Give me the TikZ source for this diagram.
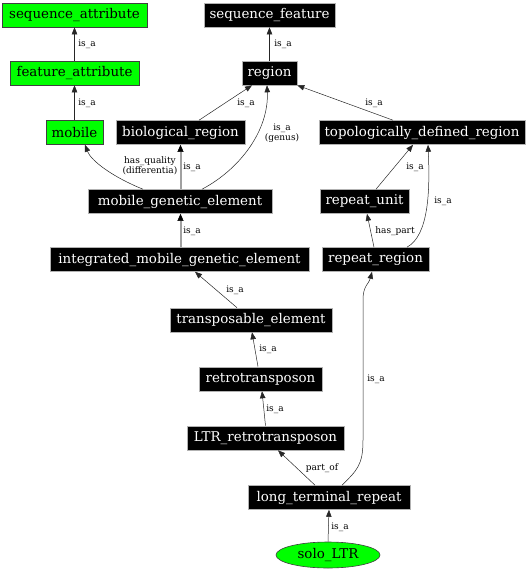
\documentclass[tikz,border=0pt]{standalone}
\usepackage{fontspec}
\setmainfont{DejaVu Serif}
\usetikzlibrary{arrows.meta,shapes.geometric}
\definecolor{nodegreen}{HTML}{00FF00}
\definecolor{edgegray}{HTML}{A0A0A0}
\tikzset{
  term/.style={rectangle, fill=black, draw=gray!60, line width=0.6pt, text=white,
    font=\fontsize{13.4}{14}\selectfont, minimum height=24pt, inner xsep=0pt, inner ysep=0pt},
  attr/.style={rectangle, fill=nodegreen, draw=black!75, line width=0.6pt, text=black,
    font=\fontsize{13.4}{14}\selectfont, minimum height=24pt, inner xsep=0pt, inner ysep=0pt},
  inst/.style={ellipse, fill=nodegreen, draw=black!75, line width=0.6pt, text=black,
    font=\fontsize{13.4}{14}\selectfont, minimum height=26pt, minimum width=104pt, inner sep=0pt},
  rel/.style={draw=black!85, line width=0.5pt, -{Triangle[length=7pt,width=5.5pt]}},
  relg/.style={draw=edgegray, line width=2pt, -{Triangle[length=7pt,width=6pt,fill=black,color=black,line width=0.4pt]}},
  lab/.style={font=\fontsize{9}{9.5}\selectfont, inner sep=0pt, align=center},
}
\begin{document}
\begin{tikzpicture}[x=1pt,y=-1pt]
\useasboundingbox (0,0) rectangle (531,576);
% nodes
\node[attr, minimum width=145pt] (sa) at (74.5,15) {sequence\_attribute};
\node[term, minimum width=131pt] (sf) at (269.5,15) {sequence\_feature};
\node[attr, minimum width=129pt] (fa) at (74.5,73) {feature\_attribute};
\node[term, minimum width=55pt] (region) at (269.5,73) {region};
\node[attr, minimum width=57pt] (mobile) at (74.5,132.5) {mobile};
\node[term, minimum width=129pt] (bio) at (180.5,132.5) {biological\_region};
\node[term, minimum width=206pt] (tdr) at (422,132.5) {topologically\_defined\_region};
\node[term, minimum width=184pt] (mge) at (180,201.5) {mobile\_genetic\_element};
\node[term, minimum width=89pt] (ru) at (364.5,201.5) {repeat\_unit};
\node[term, minimum width=259pt] (imge) at (179.5,259.5) {integrated\_mobile\_genetic\_element};
\node[term, minimum width=107pt] (rr) at (375.5,259.5) {repeat\_region};
\node[term, minimum width=162pt] (te) at (251,320) {transposable\_element};
\node[term, minimum width=123pt] (retro) at (260.5,379) {retrotransposon};
\node[term, minimum width=157pt] (ltrr) at (265.5,438) {LTR\_retrotransposon};
\node[term, minimum width=162pt] (ltr) at (329,497.5) {long\_terminal\_repeat};
\node[inst] (solo) at (328,555) {solo\_LTR};
% edges
\draw[rel] (fa.north) -- (sa.south);
\draw[rel] (mobile.north) -- (fa.south);
\draw[rel] (region.north) -- (sf.south);
\draw[rel] ([xshift=18.5pt]bio.north) -- ([xshift=-17.5pt]region.south);
\draw[rel] ([xshift=-29pt]tdr.north) -- (region.south east);
\draw[rel] ([xshift=-37pt]mge.north) .. controls +(-30,-12) and +(6,16) .. ([xshift=10.5pt]mobile.south);
\draw[relg] ([xshift=0.5pt]mge.north) -- (bio.south);
\draw[rel] ([xshift=22pt]mge.north) .. controls +(38,-20) and +(2,45) .. ([xshift=-2.5pt]region.south);
\draw[rel] ([xshift=11.5pt]ru.north) -- ([xshift=-9pt]tdr.south);
\draw[rel] ([xshift=-1.5pt]rr.north) -- ([xshift=2.5pt]ru.south);
\draw[rel] ([xshift=31.5pt]rr.north) .. controls +(22,-12) and +(2,45) .. ([xshift=6pt]tdr.south);
\draw[relg] ([xshift=1pt]imge.north) -- ([xshift=0.5pt]mge.south);
\draw[rel] ([xshift=-14pt]te.north) -- ([xshift=15.5pt]imge.south);
\draw[rel] ([xshift=-2.5pt]retro.north) -- ([xshift=1pt]te.south);
\draw[rel] (ltrr.north) -- ([xshift=1.5pt]retro.south);
\draw[rel] ([xshift=-14pt]ltr.north) -- ([xshift=12.5pt]ltrr.south);
\draw[rel] ([xshift=13pt]ltr.north) .. controls +(15,-15) and +(0,25) .. ++(21,-45)
   -- ++(0,-140) .. controls +(0,-15) and +(-3,12) .. ([xshift=-3.5pt]rr.south);
\draw[rel] (solo.north) -- (ltr.south);
% labels
\node[lab] (l1) at (87,44) {is\_a};
\node[lab] (l2) at (87,103) {is\_a};
\node[lab] (l3) at (283,44) {is\_a};
\node[lab] (l4) at (246,103) {is\_a};
\node[lab] (l5) at (374,103) {is\_a};
\node[lab] (l6) at (150,166) {has\_quality\\(differentia)};
\node[lab] (l7) at (192,167) {is\_a};
\node[lab] (l8) at (282,133) {is\_a\\(genus)};
\node[lab] (l9) at (415,167) {is\_a};
\node[lab] (l10) at (395,231) {has\_part};
\node[lab] (l11) at (443,201) {is\_a};
\node[lab] (l12) at (192,231) {is\_a};
\node[lab] (l13) at (235,290) {is\_a};
\node[lab] (l14) at (268,349) {is\_a};
\node[lab] (l15) at (275,409) {is\_a};
\node[lab] (l16) at (322,468) {part\_of};
\node[lab] (l17) at (376,379) {is\_a};
\node[lab] (l18) at (340,527) {is\_a};
\end{tikzpicture}
\end{document}
